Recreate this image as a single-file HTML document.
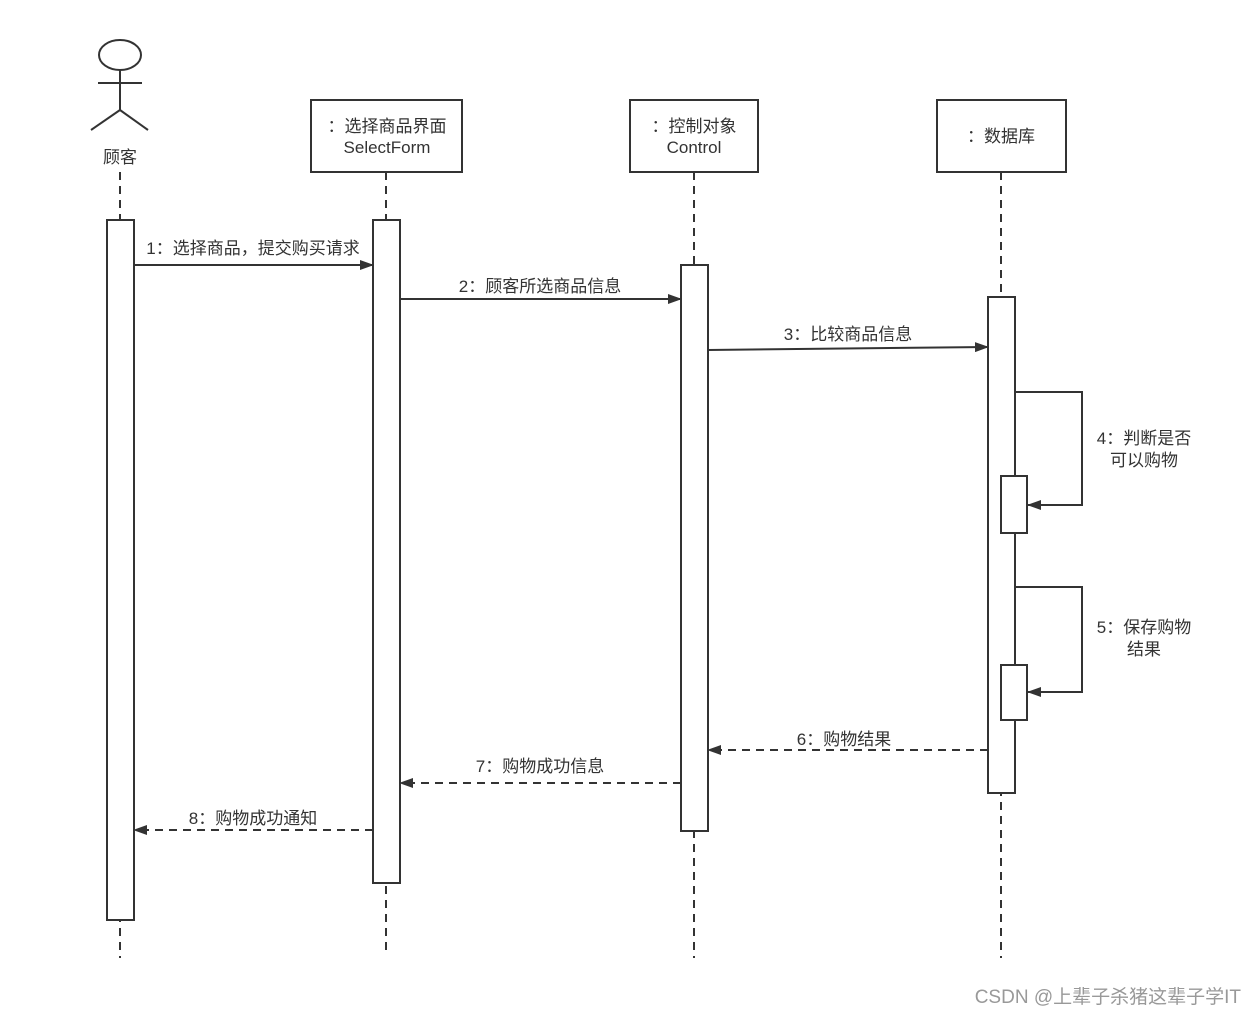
<!DOCTYPE html>
<html><head><meta charset="utf-8"><style>
html,body{margin:0;padding:0;background:#fff;}
svg{display:block;}
text{font-family:"Liberation Sans","Noto Sans CJK SC",sans-serif;fill:#333;font-size:17px;}
</style></head><body>
<svg width="1256" height="1015" viewBox="0 0 1256 1015" xmlns="http://www.w3.org/2000/svg">
<defs>
<marker id="a" markerWidth="14" markerHeight="10" refX="13" refY="5" orient="auto" markerUnits="userSpaceOnUse">
<path d="M0,0 L14,5 L0,10 Z" fill="#333"/></marker>
</defs>
<g stroke="#333" stroke-width="2" fill="none">
<ellipse cx="120" cy="55" rx="21" ry="15"/>
<line x1="120" y1="70" x2="120" y2="110"/>
<line x1="98" y1="83" x2="142" y2="83"/>
<line x1="120" y1="110" x2="91" y2="130"/>
<line x1="120" y1="110" x2="148" y2="130"/>
<g stroke-dasharray="8,6">
<line x1="120" y1="172" x2="120" y2="958"/>
<line x1="386" y1="172" x2="386" y2="955"/>
<line x1="694" y1="172" x2="694" y2="958"/>
<line x1="1001" y1="172" x2="1001" y2="958"/>
</g>
<rect x="311" y="100" width="151" height="72" fill="#fff"/>
<rect x="630" y="100" width="128" height="72" fill="#fff"/>
<rect x="937" y="100" width="129" height="72" fill="#fff"/>
<rect x="107" y="220" width="27" height="700" fill="#fff"/>
<rect x="373" y="220" width="27" height="663" fill="#fff"/>
<rect x="681" y="265" width="27" height="566" fill="#fff"/>
<rect x="988" y="297" width="27" height="496" fill="#fff"/>
<rect x="1001" y="476" width="26" height="57" fill="#fff"/>
<rect x="1001" y="665" width="26" height="55" fill="#fff"/>
<line x1="134" y1="265" x2="373" y2="265" marker-end="url(#a)"/>
<line x1="400" y1="299" x2="681" y2="299" marker-end="url(#a)"/>
<line x1="708" y1="350" x2="988" y2="347" marker-end="url(#a)"/>
<polyline points="1015,392 1082,392 1082,505 1028,505" marker-end="url(#a)"/>
<polyline points="1015,587 1082,587 1082,692 1028,692" marker-end="url(#a)"/>
<g stroke-dasharray="8,6">
<line x1="988" y1="750" x2="708" y2="750" marker-end="url(#a)"/>
<line x1="681" y1="783" x2="400" y2="783" marker-end="url(#a)"/>
<line x1="373" y1="830" x2="134" y2="830" marker-end="url(#a)"/>
</g>
</g>
<text x="120" y="163" text-anchor="middle">顾客</text>
<text x="387" y="132" text-anchor="middle">：选择商品界面</text>
<text x="387" y="153" text-anchor="middle">SelectForm</text>
<text x="694" y="132" text-anchor="middle">：控制对象</text>
<text x="694" y="153" text-anchor="middle">Control</text>
<text x="1001" y="142" text-anchor="middle">：数据库</text>
<text x="253" y="254" text-anchor="middle">1：选择商品，提交购买请求</text>
<text x="540" y="292" text-anchor="middle">2：顾客所选商品信息</text>
<text x="848" y="340" text-anchor="middle">3：比较商品信息</text>
<text x="1144" y="444" text-anchor="middle">4：判断是否</text>
<text x="1144" y="466" text-anchor="middle">可以购物</text>
<text x="1144" y="633" text-anchor="middle">5：保存购物</text>
<text x="1144" y="655" text-anchor="middle">结果</text>
<text x="844" y="745" text-anchor="middle">6：购物结果</text>
<text x="540" y="772" text-anchor="middle">7：购物成功信息</text>
<text x="253" y="824" text-anchor="middle">8：购物成功通知</text>
<text x="1241" y="1003" text-anchor="end" style="font-size:19px;fill:#999">CSDN @上辈子杀猪这辈子学IT</text>
</svg>
</body></html>
